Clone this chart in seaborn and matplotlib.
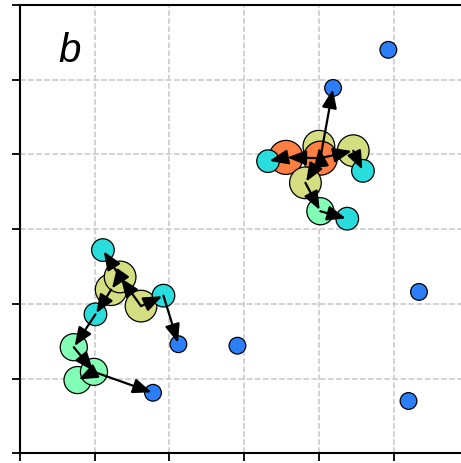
import matplotlib
matplotlib.use('Agg')
import matplotlib.pyplot as plt
import seaborn as sns
import pandas as pd

# ---- data ----
node_names = ["Yt", "Ol", "Oc", "Yr", "Yd", "Cl", "Cr", "Gu", "Cd", "Bt",
              "Yc", "Yb", "Ya", "Ca", "Cb", "Cc", "Ba", "Ga", "Gc", "Gb", "Bb",
              "B1", "B2", "B3", "B4"]
node_x = [4.00, 3.56, 4.02, 4.46, 3.82, 3.32, 4.59, 4.02, 4.38, 4.19,
          1.62, 1.22, 1.34, 1.11, 1.92, 1.01, 2.12, 0.72, 0.77, 0.99, 1.78,
          4.93, 2.91, 5.34, 5.20]
node_y = [4.11, 3.96, 3.95, 4.05, 3.62, 3.91, 3.78, 3.24, 3.14, 4.89,
          1.97, 2.19, 2.36, 2.72, 2.11, 1.86, 1.46, 1.42, 0.98, 1.09, 0.81,
          5.40, 1.44, 2.16, 0.70]
node_level = [4, 5, 5, 4, 4, 2, 2, 3, 2, 1,
              4, 4, 4, 2, 2, 2, 1, 3, 3, 3, 1,
              1, 1, 1, 1]
edge_src = ["Oc", "Oc", "Oc", "Ol", "Oc", "Yr", "Oc", "Yd", "Gu",
            "Yc", "Ya", "Ya", "Yb", "Cc", "Ga", "Gb", "Gb", "Yc", "Cb"]
edge_dst = ["Bt", "Yt", "Ol", "Cl", "Yr", "Cr", "Yd", "Gu", "Cd",
            "Ya", "Ca", "Yb", "Cc", "Ga", "Gb", "Gc", "Bb", "Cb", "Ba"]
levels = [1, 2, 3, 4, 5]
marker_sizes = [145, 265, 380, 520, 600]
panel_label = "b"

df = pd.DataFrame({"name": node_names, "x": node_x, "y": node_y, "level": node_level})

sns.set_style("ticks")
plt.rcParams['font.family'] = ['Liberation Sans', 'DejaVu Sans']

fig = plt.figure(figsize=(4.61, 4.63), dpi=100)
ax = fig.add_axes([20 / 461, 9.7 / 463, 448.3 / 461, 448.3 / 463])

cmap = plt.get_cmap("rainbow")
palette = {lv: cmap(lv / 6) for lv in levels}
sizes = dict(zip(levels, marker_sizes))

sns.scatterplot(data=df, x="x", y="y", hue="level", size="level",
                palette=palette, sizes=sizes, edgecolor="black",
                linewidth=0.9, alpha=1, legend=False, ax=ax, zorder=3)

pos = {n: (x, y) for n, x, y in zip(node_names, node_x, node_y)}
for s, d in zip(edge_src, edge_dst):
    ax.annotate("", xy=pos[d], xytext=pos[s],
                arrowprops=dict(arrowstyle="-|>,head_length=0.75,head_width=0.3",
                                mutation_scale=15, color="black", lw=1.6,
                                shrinkA=0, shrinkB=1),
                zorder=4)

ax.set_xlim(0, 6)
ax.set_ylim(0, 6)
ax.set_xticks(range(0, 7))
ax.set_yticks(range(0, 7))
ax.set_xticklabels([])
ax.set_yticklabels([])
ax.set_xlabel("")
ax.set_ylabel("")
ax.grid(True, linestyle="--", color="#c8c8c8", linewidth=1.1, zorder=0)
ax.set_axisbelow(True)
for sp in ax.spines.values():
    sp.set_color("black")
    sp.set_linewidth(1.5)
    sp.set_visible(True)
ax.tick_params(axis="both", direction="out", length=6, width=1.3, color="black")

ax.text(0.086, 0.873, panel_label, transform=ax.transAxes, fontsize=29,
        fontstyle="italic", ha="left", va="baseline", color="black")

fig.savefig("out.png", dpi=100)
